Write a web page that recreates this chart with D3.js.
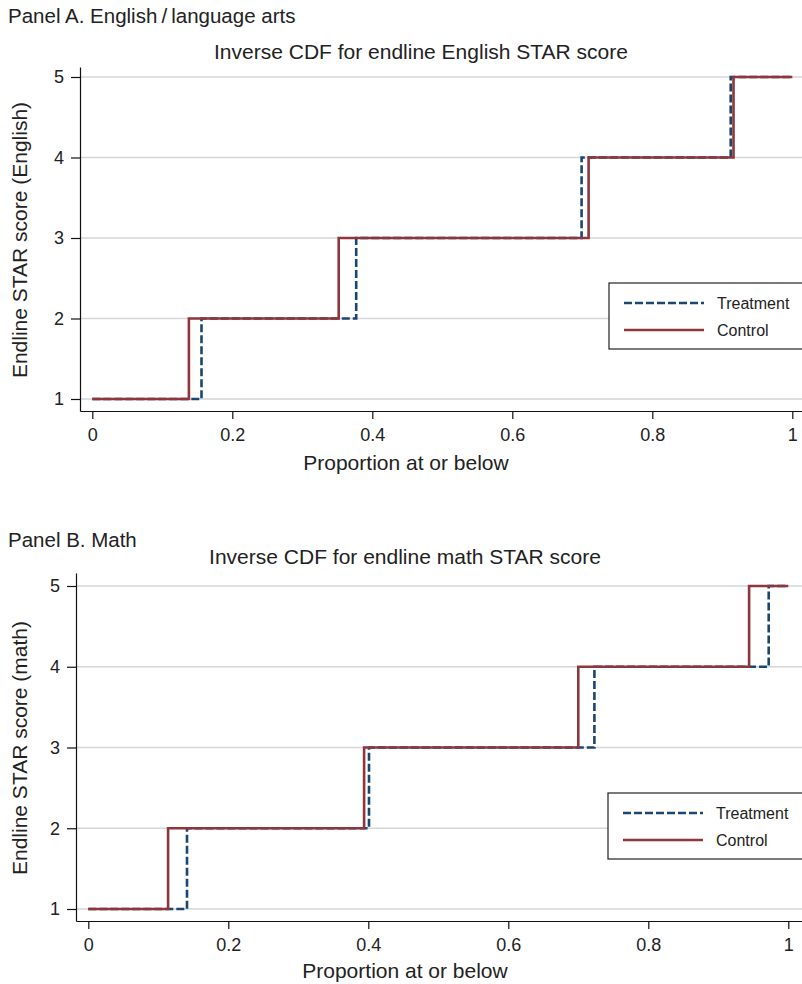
<!DOCTYPE html>
<html>
<head>
<meta charset="utf-8">
<script src="https://cdn.jsdelivr.net/npm/d3@7"></script>
<style>
  body { margin: 0; background: #fff; }
  svg { display: block; font-family: "Liberation Sans", Arial, sans-serif; }
</style>
</head>
<body>
<svg id="chart" width="802" height="984"></svg>
<script>
// score levels (y) and the proportion where each level starts; last entry closes the step at 1
const scoreLevels = [1, 2, 3, 4, 5, 5];
const englishTreatment = [0, 0.156, 0.377, 0.699, 0.912, 1];
const englishControl   = [0, 0.138, 0.352, 0.709, 0.916, 1];
const mathTreatment    = [0, 0.141, 0.401, 0.723, 0.972, 1];
const mathControl      = [0, 0.114, 0.394, 0.700, 0.944, 1];

const xTicks = [0, 0.2, 0.4, 0.6, 0.8, 1];
const xTickLabels = ["0", "0.2", "0.4", "0.6", "0.8", "1"];
const yTicks = [1, 2, 3, 4, 5];
const seriesNames = ["Treatment", "Control"];

const W = 802;
const navy = "#1a476f";
const maroon = "#90353b";
const ink = "#222";

const svg = d3.select("#chart");

function toPoints(cuts) {
    return cuts.map((p, i) => ({ x: p, y: scoreLevels[i] }));
}

function drawPanel(cfg) {
    const g = svg.append("g");

    // scales: tick positions measured, axis lines run a bit past them
    const x0 = d3.scaleLinear().domain([0, 1]).range([cfg.xZero, cfg.xZero + 700]);
    const x = d3.scaleLinear()
        .domain([x0.invert(cfg.axisLeft), x0.invert(W)])
        .range([cfg.axisLeft, W]);
    const y0 = d3.scaleLinear().domain([1, 5]).range([cfg.yOne, cfg.yFive]);
    const y = d3.scaleLinear()
        .domain([y0.invert(cfg.axisBottom), y0.invert(cfg.axisTop)])
        .range([cfg.axisBottom, cfg.axisTop]);

    // panel label + title
    g.append("text").attr("x", 8).attr("y", cfg.panelY)
        .attr("font-size", 20.5).attr("fill", ink).text(cfg.panel);
    g.append("text").attr("x", cfg.titleX).attr("y", cfg.titleY)
        .attr("text-anchor", "middle").attr("font-size", 21).attr("fill", ink)
        .text(cfg.title);

    // horizontal gridlines
    g.append("g").selectAll("line").data(yTicks).join("line")
        .attr("x1", cfg.axisLeft).attr("x2", W)
        .attr("y1", d => y(d)).attr("y2", d => y(d))
        .attr("stroke", "#d6d6d6").attr("stroke-width", 1.3);

    // axes
    g.append("g")
        .attr("transform", `translate(${cfg.axisLeft},0)`)
        .call(d3.axisLeft(y).tickValues(yTicks).tickSize(9).tickSizeOuter(0).tickPadding(7).tickFormat(d3.format("d")))
        .call(a => a.selectAll("text").attr("font-size", 18).attr("fill", ink).attr("font-family", null))
        .call(a => a.selectAll("line, .domain").attr("stroke", "#111").attr("stroke-width", 1.2));

    g.append("g")
        .attr("transform", `translate(0,${cfg.axisBottom})`)
        .call(d3.axisBottom(x).tickValues(xTicks).tickSize(8).tickSizeOuter(0).tickPadding(9)
            .tickFormat((d, i) => xTickLabels[i]))
        .call(a => a.selectAll("text").attr("font-size", 18).attr("fill", ink).attr("font-family", null))
        .call(a => a.selectAll("line, .domain").attr("stroke", "#111").attr("stroke-width", 1.2));

    // axis titles
    g.append("text").attr("x", cfg.xLabelX).attr("y", cfg.xLabelY)
        .attr("text-anchor", "middle").attr("font-size", 21).attr("fill", ink)
        .text("Proportion at or below");
    g.append("text")
        .attr("transform", `translate(27,${cfg.yLabelY}) rotate(-90)`)
        .attr("text-anchor", "middle").attr("font-size", 21).attr("fill", ink)
        .text(cfg.yLabel);

    // step lines (inverse CDF)
    const line = d3.line().x(d => x(d.x)).y(d => y(d.y)).curve(d3.curveStepAfter);
    g.append("path").datum(toPoints(cfg.treatment))
        .attr("d", line).attr("fill", "none")
        .attr("stroke", navy).attr("stroke-width", 2.6)
        .attr("stroke-dasharray", "8,3");
    g.append("path").datum(toPoints(cfg.control))
        .attr("d", line).attr("fill", "none")
        .attr("stroke", maroon).attr("stroke-width", 2.6);

    // legend
    const lg = g.append("g").attr("transform", `translate(${cfg.legendX},${cfg.legendY})`);
    lg.append("rect").attr("x", 0).attr("y", 0).attr("width", 220).attr("height", 66)
        .attr("fill", "#fff").attr("stroke", "#222").attr("stroke-width", 1.2);
    const items = lg.selectAll("g.item").data(seriesNames).join("g")
        .attr("transform", (d, i) => `translate(15,${20 + i * 27})`);
    items.append("line").attr("x1", 0).attr("x2", 80).attr("y1", 0).attr("y2", 0)
        .attr("stroke", (d, i) => i === 0 ? navy : maroon)
        .attr("stroke-width", 2.4)
        .attr("stroke-dasharray", (d, i) => i === 0 ? "8,3" : null);
    items.append("text").attr("x", 93).attr("y", 6)
        .attr("font-size", 16).attr("fill", ink).text(d => d);
}

drawPanel({
    panel: "Panel A. English\u2009/\u2009language arts",
    title: "Inverse CDF for endline English STAR score",
    yLabel: "Endline STAR score (English)",
    treatment: englishTreatment, control: englishControl,
    panelY: 23, titleX: 421, titleY: 59,
    xZero: 92.3, axisLeft: 80,
    yOne: 399, yFive: 77, axisTop: 67, axisBottom: 411,
    xLabelX: 406, xLabelY: 470, yLabelY: 240,
    legendX: 609, legendY: 283
});

drawPanel({
    panel: "Panel B. Math",
    title: "Inverse CDF for endline math STAR score",
    yLabel: "Endline STAR score (math)",
    treatment: mathTreatment, control: mathControl,
    panelY: 547, titleX: 405, titleY: 564,
    xZero: 88.3, axisLeft: 76,
    yOne: 909, yFive: 586, axisTop: 573, axisBottom: 921,
    xLabelX: 405, xLabelY: 978, yLabelY: 748,
    legendX: 608, legendY: 793
});
</script>
</body>
</html>
